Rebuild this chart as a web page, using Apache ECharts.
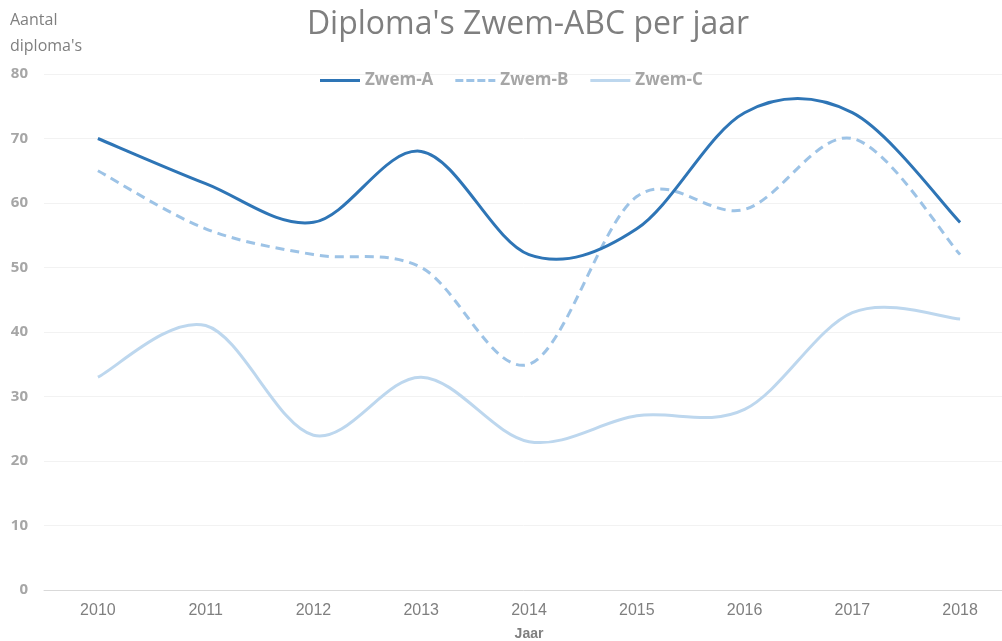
<!DOCTYPE html>
<html>
<head>
<meta charset="utf-8">
<script src="https://cdn.jsdelivr.net/npm/echarts@6/dist/echarts.min.js"></script>
<style>
  html, body { margin: 0; padding: 0; background: #fff; }
  #chart { width: 1002px; height: 641px; }
</style>
</head>
<body>
<div id="chart"></div>
<script>
// jaren en aantallen per diploma
var years = ["2010", "2011", "2012", "2013", "2014", "2015", "2016", "2017", "2018"];
var zwemA = [70, 63, 57, 68, 52, 56, 74, 74, 57];
var zwemB = [65, 56, 52, 50, 35, 61, 59, 70, 52];
var zwemC = [33, 41, 24, 33, 23, 27, 28, 43, 42];
var seriesNames = ["Zwem-A", "Zwem-B", "Zwem-C"];

var colors = ["#2e75b6", "#9dc3e6", "#bdd7ee"];
var dashes = [null, [9, 6], null];
var allData = [zwemA, zwemB, zwemC];

var solidIcon = "path://M0,0 L40,0 L40,3 L0,3 Z";
var dashIcon = "path://M0,0h8v3h-8z M11,0h8v3h-8z M22,0h8v3h-8z M33,0h7v3h-7z";

// Excel-achtige gladde lijn (catmull-rom), punten via api.coord
function smoothRender(arr, idx) {
  return function (params, api) {
    if (params.dataIndex !== 0) return null;
    var pts = arr.map(function (v, i) { return api.coord([i, v]); });
    var n = pts.length;
    var d = "M" + pts[0][0] + "," + pts[0][1];
    for (var i = 0; i < n - 1; i++) {
      var p0 = pts[Math.max(i - 1, 0)];
      var p1 = pts[i];
      var p2 = pts[i + 1];
      var p3 = pts[Math.min(i + 2, n - 1)];
      var c1x = p1[0] + (p2[0] - p0[0]) / 6;
      var c1y = p1[1] + (p2[1] - p0[1]) / 6;
      var c2x = p2[0] - (p3[0] - p1[0]) / 6;
      var c2y = p2[1] - (p3[1] - p1[1]) / 6;
      d += " C" + c1x + "," + c1y + " " + c2x + "," + c2y + " " + p2[0] + "," + p2[1];
    }
    var style = { fill: "none", stroke: colors[idx], lineWidth: 3 };
    if (dashes[idx]) style.lineDash = dashes[idx];
    return { type: "path", shape: { pathData: d }, style: style };
  };
}

var chart = echarts.init(document.getElementById("chart"));
chart.setOption({
  backgroundColor: "#fff",
  animation: false,
  title: {
    text: "Diploma's Zwem-ABC per jaar",
    left: 523,
    textAlign: "center",
    top: 4,
    textStyle: {
      fontFamily: "Open Sans",
      fontWeight: "normal",
      fontSize: 32,
      color: "#7f7f7f"
    }
  },
  legend: {
    top: 67,
    left: 315,
    itemWidth: 40,
    itemHeight: 3,
    itemGap: 22,
    textStyle: {
      fontFamily: "Open Sans",
      fontWeight: "bold",
      fontSize: 17,
      color: "#a6a6a6"
    },
    data: [
      { name: "Zwem-A", icon: solidIcon },
      { name: "Zwem-B", icon: dashIcon },
      { name: "Zwem-C", icon: solidIcon }
    ]
  },
  grid: {
    left: 44,
    top: 74,
    width: 970,
    bottom: 51,
    containLabel: false,
    outerBoundsMode: "none"
  },
  xAxis: {
    type: "category",
    data: years,
    boundaryGap: true,
    name: "Jaar",
    nameLocation: "middle",
    nameGap: 37,
    nameTextStyle: {
      fontFamily: "Liberation Sans",
      fontWeight: "bold",
      fontSize: 14,
      color: "#7f7f7f"
    },
    axisTick: { show: false },
    axisLine: { lineStyle: { color: "#d9d9d9", width: 1 } },
    axisLabel: {
      margin: 13,
      fontFamily: "Liberation Sans",
      fontSize: 16,
      color: "#7f7f7f"
    }
  },
  yAxis: {
    type: "value",
    min: 0,
    max: 80,
    interval: 10,
    name: "Aantal\ndiploma's",
    nameLocation: "end",
    nameGap: 0,
    nameTextStyle: {
      align: "left",
      verticalAlign: "bottom",
      padding: [0, 0, 7, -34],
      fontFamily: "Open Sans",
      fontSize: 16,
      lineHeight: 26,
      color: "#7f7f7f"
    },
    axisLine: { show: false },
    axisTick: { show: false },
    axisLabel: {
      margin: 16,
      fontFamily: "Open Sans",
      fontWeight: "bold",
      fontSize: 15,
      color: "#a6a6a6"
    },
    splitLine: { lineStyle: { color: "#f2f2f2", width: 1 } }
  },
  series: seriesNames.map(function (name, i) {
    return {
      name: name,
      type: "custom",
      coordinateSystem: "cartesian2d",
      renderItem: smoothRender(allData[i], i),
      encode: { x: 0, y: 1 },
      data: allData[i].map(function (v, k) { return [k, v]; }),
      z: 3 - i,
      itemStyle: { color: colors[i] }
    };
  })
});
</script>
</body>
</html>
